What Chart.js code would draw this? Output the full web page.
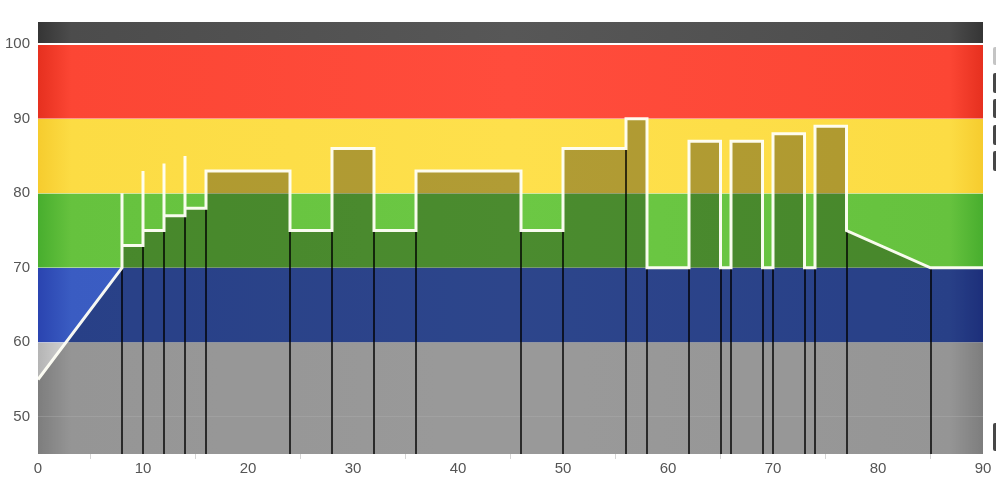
<!DOCTYPE html>
<html>
<head>
<meta charset="utf-8">
<script src="https://cdn.jsdelivr.net/npm/chart.js@4.4.1/dist/chart.umd.min.js"></script>
<style>
  html, body { margin: 0; padding: 0; background: #ffffff; }
  #wrap { width: 996px; height: 477px; position: relative; }
</style>
</head>
<body>
<div id="wrap"><canvas id="c" width="996" height="477"></canvas></div>
<script>
// ---- data ----
const profileX = [0, 8, 8, 8, 10, 10, 10, 12, 12, 12, 14, 14, 14, 16, 16, 24, 24, 28, 28, 32, 32, 36, 36, 46, 46, 50, 50, 56, 56, 58, 58, 62, 62, 65, 65, 66, 66, 69, 69, 70, 70, 73, 73, 74, 74, 77, 77, 85, 90];
const profileY = [55, 70, 80, 73, 73, 83, 75, 75, 84, 77, 77, 85, 78, 78, 83, 83, 75, 75, 86, 86, 75, 75, 83, 83, 75, 75, 86, 86, 90, 90, 70, 70, 87, 87, 70, 70, 87, 87, 70, 70, 88, 88, 70, 70, 89, 89, 75, 70, 70];
const xTickLabels = [0, 10, 20, 30, 40, 50, 60, 70, 80, 90];
const yTickLabels = [50, 60, 70, 80, 90, 100];
const zoneEdges = [45, 60, 70, 80, 90, 100, 103];
const zoneColors = [
  ['#b4b4b4', '#d6d6d6', '#dcdcdc'],
  ['#2a44b0', '#3a5cc2', '#4164c8'],
  ['#48ae2e', '#66c23e', '#6cc844'],
  ['#f6cc2e', '#fcdc44', '#fee04c'],
  ['#e6301f', '#fc4634', '#ff4c3c'],
  ['#353535', '#4c4c4c', '#575757']
];

const points = profileX.map((x, i) => ({ x: x, y: profileY[i] }));

// interior boundaries of the stepped profile
const boundaries = [];
profileX.forEach(x => { if (x > profileX[0] && x < profileX[profileX.length - 1] && !boundaries.includes(x)) boundaries.push(x); });
function minAt(x) {
  let m = Infinity;
  profileX.forEach((px, i) => { if (px === x) m = Math.min(m, profileY[i]); });
  return m;
}

const zonesPlugin = {
  id: 'zones',
  beforeDraw(chart) {
    const { ctx, chartArea: a, scales: { y } } = chart;
    ctx.save();
    for (let i = 0; i < zoneEdges.length - 1; i++) {
      const top = y.getPixelForValue(zoneEdges[i + 1]);
      const bot = y.getPixelForValue(zoneEdges[i]);
      const c = zoneColors[i];
      const g = ctx.createLinearGradient(a.left, 0, a.right, 0);
      g.addColorStop(0, c[0]);
      g.addColorStop(0.035, c[1]);
      g.addColorStop(0.5, c[2]);
      g.addColorStop(0.965, c[1]);
      g.addColorStop(1, c[0]);
      ctx.fillStyle = g;
      ctx.fillRect(a.left, top, a.right - a.left, bot - top);
    }
    ctx.restore();
  },
  beforeDatasetDraw(chart) {
    // nothing
  },
  afterDatasetsDraw(chart) {
  }
};

const dividersPlugin = {
  id: 'dividers',
  beforeDatasetsDraw(chart) {
    const { ctx, chartArea: a, scales: { x, y } } = chart;
    // white separator at 100
    ctx.save();
    ctx.strokeStyle = '#ffffff';
    ctx.lineWidth = 2;
    const y100 = Math.round(y.getPixelForValue(100));
    ctx.beginPath();
    ctx.moveTo(a.left, y100);
    ctx.lineTo(a.right, y100);
    ctx.stroke();
    ctx.restore();
  },
  afterDatasetDraw(chart, args) {
    if (args.index !== 0) return;
  }
};

const stepLinesPlugin = {
  id: 'steplines',
  beforeDatasetDraw(chart, args) {
    // draw the filled area first via the dataset; lines go after fill but before border:
  },
  afterDraw(chart) {
    const { ctx } = chart;
    // legend stubs (cut off at right edge)
    ctx.save();
    const stubs = [[47, 18, '#c4c4c4'], [73, 20, '#474747'], [99, 19, '#474747'], [125, 20, '#474747'], [151, 20, '#474747'], [423, 28, '#474747']];
    stubs.forEach(s => {
      ctx.fillStyle = s[2];
      ctx.beginPath();
      ctx.roundRect(993, s[0], 8, s[1], 2);
      ctx.fill();
    });
    ctx.restore();
  }
};

// fill + dark verticals drawn under the white line
const fillPlugin = {
  id: 'fillunder',
  beforeDatasetsDraw(chart) {
    const { ctx, chartArea: a, scales: { x, y } } = chart;
    ctx.save();
    ctx.beginPath();
    ctx.rect(a.left, a.top, a.right - a.left, a.bottom - a.top);
    ctx.clip();
    // overlay fill under the profile
    ctx.beginPath();
    ctx.moveTo(x.getPixelForValue(profileX[0]), a.bottom);
    profileX.forEach((px, i) => ctx.lineTo(x.getPixelForValue(px), y.getPixelForValue(profileY[i])));
    ctx.lineTo(x.getPixelForValue(profileX[profileX.length - 1]), a.bottom);
    ctx.closePath();
    ctx.fillStyle = 'rgba(0,0,0,0.3)';
    ctx.fill();
    // dark vertical lines at each step
    ctx.strokeStyle = 'rgba(0,0,0,0.72)';
    ctx.lineWidth = 2;
    boundaries.forEach(b => {
      const px = Math.round(x.getPixelForValue(b));
      ctx.beginPath();
      ctx.moveTo(px, a.bottom);
      ctx.lineTo(px, y.getPixelForValue(minAt(b)));
      ctx.stroke();
    });
    ctx.restore();
  }
};

new Chart(document.getElementById('c'), {
  type: 'line',
  data: {
    datasets: [{
      data: points,
      borderColor: 'rgba(255,255,246,0.96)',
      borderWidth: 3,
      pointRadius: 0,
      fill: false,
      tension: 0,
      borderJoinStyle: 'miter'
    }]
  },
  options: {
    responsive: false,
    animation: false,
    layout: { padding: { top: 22, right: 13, left: 0, bottom: 0 } },
    plugins: { legend: { display: false }, tooltip: { enabled: false } },
    scales: {
      x: {
        type: 'linear',
        min: 0,
        max: 90,
        border: { display: false },
        grid: {
          drawOnChartArea: false,
          drawTicks: true,
          tickLength: 5,
          tickColor: ctx => (ctx.tick && ctx.tick.value % 10 === 0) ? 'rgba(0,0,0,0)' : '#d4d4d4'
        },
        afterBuildTicks: s => {
          const t = [];
          xTickLabels.forEach((v, i) => { t.push({ value: v }); if (i < xTickLabels.length - 1) t.push({ value: v + 5 }); });
          s.ticks = t;
        },
        ticks: {
          autoSkip: false,
          maxRotation: 0,
          padding: 1,
          color: '#555555',
          font: { family: 'Liberation Sans, Arial, sans-serif', size: 15 },
          callback: v => xTickLabels.includes(v) ? String(v) : ''
        },
        afterFit: s => { s.height = 23; }
      },
      y: {
        type: 'linear',
        min: 45,
        max: 103,
        border: { display: false },
        grid: {
          color: 'rgba(255,255,255,0.35)',
          lineWidth: 1,
          drawTicks: false
        },
        afterBuildTicks: s => { s.ticks = yTickLabels.map(v => ({ value: v })); },
        ticks: {
          padding: 8,
          color: '#555555',
          font: { family: 'Liberation Sans, Arial, sans-serif', size: 15 },
          callback: v => String(v)
        },
        afterFit: s => { s.width = 38; }
      }
    }
  },
  plugins: [zonesPlugin, dividersPlugin, fillPlugin, stepLinesPlugin]
});
</script>
</body>
</html>
